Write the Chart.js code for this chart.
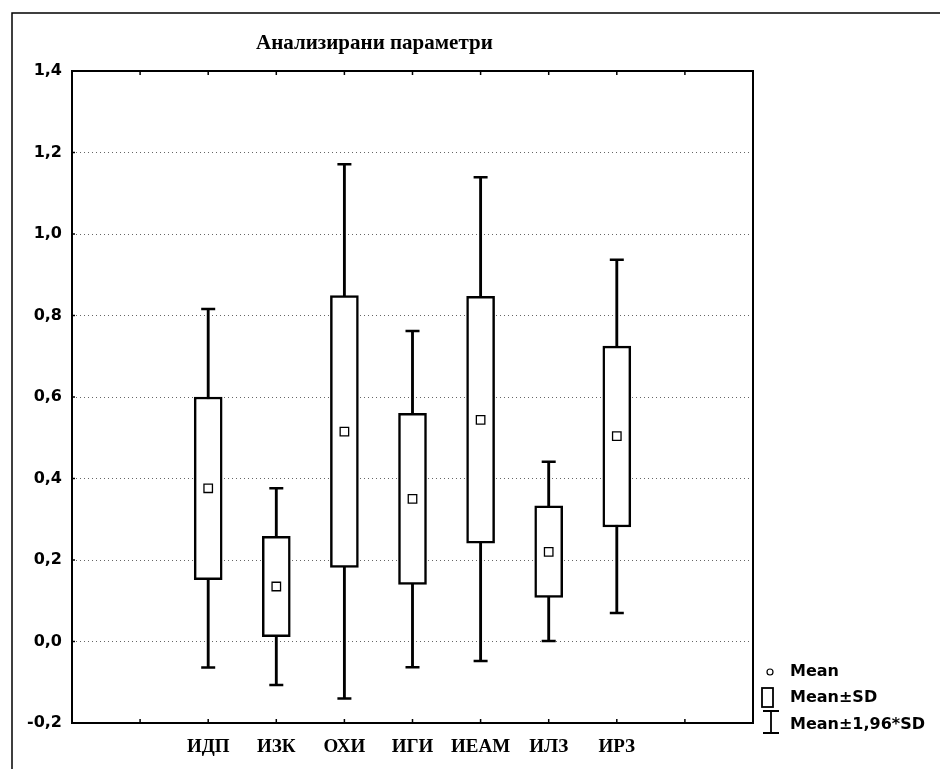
<!DOCTYPE html>
<html>
<head>
<meta charset="utf-8">
<script src="https://cdn.jsdelivr.net/npm/chart.js@4/dist/chart.umd.min.js"></script>
<style>
  body { margin: 0; background: #fff; }
  canvas { display: block; }
</style>
</head>
<body>
<canvas id="cajas" width="940" height="769"></canvas>
<script>
// valores
const categorias = ['ИДП', 'ИЗК', 'ОХИ', 'ИГИ', 'ИЕАМ', 'ИЛЗ', 'ИРЗ'];
const medias   = [0.376, 0.135, 0.515, 0.350, 0.544, 0.220, 0.504];
const sdBajo   = [0.152, 0.012, 0.182, 0.140, 0.241, 0.108, 0.281];
const sdAlto   = [0.600, 0.258, 0.849, 0.560, 0.847, 0.333, 0.725];
const ciBajo   = [-0.064, -0.107, -0.140, -0.063, -0.048, 0.001, 0.070];
const ciAlto   = [0.816, 0.376, 1.171, 0.762, 1.139, 0.441, 0.937];
const yMin = -0.2, yMax = 1.4, yPaso = 0.2;
const titulo = 'Анализирани параметри';
const leyenda = ['Mean', 'Mean±SD', 'Mean±1,96*SD'];

// dos huecos vacios a cada lado, como en el original
const etiquetas = ['', '', ...categorias, '', ''];
function relleno(arr){
    return [null, null, ...arr, null, null];
}
const cajas = relleno(categorias.map((c, i) => [sdBajo[i], sdAlto[i]]));
const bigotes = relleno(categorias.map((c, i) => [ciBajo[i], ciAlto[i]]));

const fuenteSans = "'DejaVu Sans', sans-serif";
const fuenteSerif = "'Liberation Serif', 'Times New Roman', serif";

const marco = {
    id: 'marco',
    afterDraw(chart){
        const ctx = chart.ctx;
        const a = chart.chartArea;
        const x = chart.scales.x;
        const y = chart.scales.y;
        ctx.save();
        // borde de la pagina escaneada
        ctx.strokeStyle = '#000';
        ctx.lineWidth = 1.5;
        ctx.beginPath();
        ctx.moveTo(12, 769);
        ctx.lineTo(12, 13);
        ctx.lineTo(940, 13);
        ctx.stroke();

        // marco del grafico
        ctx.lineWidth = 2;
        ctx.strokeRect(a.left, a.top, a.right - a.left, a.bottom - a.top);

        // marcas hacia dentro
        ctx.lineWidth = 1.5;
        ctx.beginPath();
        for(let i = 1; i < etiquetas.length - 1; i++){
            const px = x.getPixelForValue(i);
            ctx.moveTo(px, a.top); ctx.lineTo(px, a.top + 4);
            ctx.moveTo(px, a.bottom); ctx.lineTo(px, a.bottom - 4);
        }
        for(let v = 0; v < 1.3; v += yPaso){
            const py = y.getPixelForValue(v);
            ctx.moveTo(a.left, py); ctx.lineTo(a.left + 3, py);
        }
        ctx.stroke();

        // titulo
        ctx.fillStyle = '#000';
        ctx.font = 'bold 21px ' + fuenteSerif;
        ctx.textAlign = 'left';
        ctx.textBaseline = 'middle';
        ctx.fillText(titulo, 256, 44);

        // leyenda
        const lx = 770;
        const tx = 790;
        ctx.font = 'bold 16px ' + fuenteSans;
        ctx.lineWidth = 1.2;
        ctx.beginPath();
        ctx.arc(lx, 672, 3, 0, Math.PI * 2);
        ctx.stroke();
        ctx.fillText(leyenda[0], tx, 672);

        ctx.lineWidth = 1.8;
        ctx.strokeRect(762, 688, 11, 19);
        ctx.fillText(leyenda[1], tx, 698);

        ctx.beginPath();
        ctx.moveTo(763, 711); ctx.lineTo(779, 711);
        ctx.moveTo(771, 711); ctx.lineTo(771, 733);
        ctx.moveTo(763, 733); ctx.lineTo(779, 733);
        ctx.stroke();
        ctx.fillText(leyenda[2], tx, 725);
        ctx.restore();
    }
};

function casiIgual(a, b){
    return Math.abs(a - b) < 1e-6;
}

const grafico = new Chart(document.getElementById('cajas'), {
    type: 'bar',
    data: {
        labels: etiquetas,
        datasets: [
            {
                type: 'line',
                label: 'media',
                data: relleno(medias),
                showLine: false,
                pointStyle: 'rect',
                pointRadius: 6,
                pointBackgroundColor: '#fff',
                pointBorderColor: '#000',
                pointBorderWidth: 1.3,
                order: 1
            },
            {
                label: 'caja',
                data: cajas,
                backgroundColor: '#fff',
                borderColor: '#000',
                borderWidth: 2.5,
                borderSkipped: false,
                barThickness: 28,
                grouped: false,
                order: 2
            },
            {
                type: 'line',
                label: 'tope alto',
                data: relleno(ciAlto),
                showLine: false,
                pointStyle: 'line',
                pointRadius: 7,
                pointBorderColor: '#000',
                pointBorderWidth: 2.5,
                order: 3
            },
            {
                type: 'line',
                label: 'tope bajo',
                data: relleno(ciBajo),
                showLine: false,
                pointStyle: 'line',
                pointRadius: 7,
                pointBorderColor: '#000',
                pointBorderWidth: 2.5,
                order: 3
            },
            {
                label: 'bigote',
                data: bigotes,
                backgroundColor: '#000',
                borderWidth: 0,
                barThickness: 2.2,
                grouped: false,
                order: 4
            }
        ]
    },
    options: {
        responsive: false,
        animation: false,
        layout: { padding: { left: 0, right: 187, top: 71, bottom: 0 } },
        plugins: {
            legend: { display: false },
            tooltip: { enabled: false },
            title: { display: false }
        },
        scales: {
            x: {
                offset: false,
                grid: { display: false, drawTicks: false },
                border: { display: false },
                ticks: {
                    autoSkip: false,
                    maxRotation: 0,
                    padding: 13,
                    color: '#000',
                    font: { family: fuenteSerif, size: 19, weight: 'bold' }
                },
                afterFit: s => { s.height = 46; }
            },
            y: {
                min: yMin,
                max: yMax,
                grid: {
                    drawTicks: false,
                    lineWidth: 1,
                    color: c => (casiIgual(c.tick.value, yMin) || casiIgual(c.tick.value, yMax)) ? 'rgba(0,0,0,0)' : '#666'
                },
                border: { display: false, dash: [1, 3] },
                ticks: {
                    stepSize: yPaso,
                    padding: 10,
                    color: '#000',
                    font: { family: fuenteSans, size: 16, weight: 'bold' },
                    callback: v => {
                        const r = Math.abs(v) < 1e-9 ? 0 : v;
                        return Number(r).toFixed(1).replace('.', ',');
                    }
                },
                afterFit: s => { s.width = 72; }
            }
        }
    },
    plugins: [marco]
});
</script>
</body>
</html>
